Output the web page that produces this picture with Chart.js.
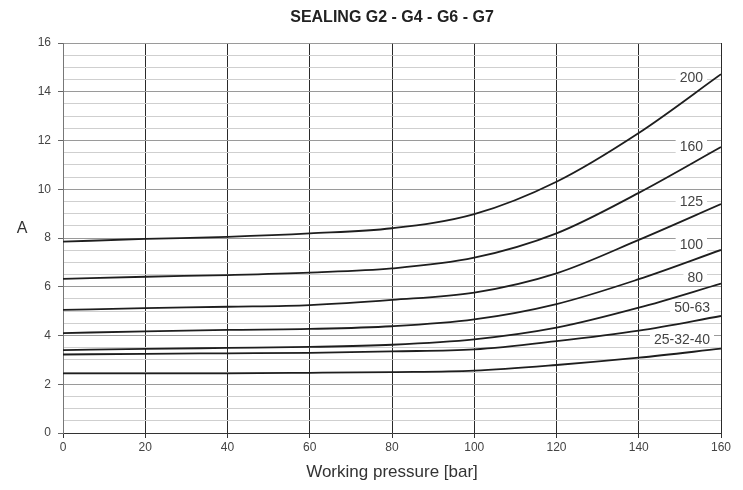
<!DOCTYPE html>
<html>
<head>
<meta charset="utf-8">
<script src="https://cdn.jsdelivr.net/npm/chart.js@4.4.1/dist/chart.umd.min.js"></script>
<style>
  html, body { margin: 0; padding: 0; background: #fff; }
  #wrap { width: 743px; height: 490px; }
</style>
</head>
<body>
<div id="wrap"><canvas id="sealChart" width="743" height="490"></canvas></div>
<script>
// pressure points (bar)
const pressure = [0, 20, 40, 60, 80, 100, 120, 140, 160];

// curve names (bore sizes)
const curveNames = ["200", "160", "125", "100", "80", "50-63", "25-32-40"];

// A values per curve
const a200 = [7.85, 7.96, 8.05, 8.19, 8.40, 8.98, 10.31, 12.31, 14.72];
const a160 = [6.32, 6.41, 6.48, 6.58, 6.75, 7.19, 8.19, 9.85, 11.73];
const a125 = [5.05, 5.12, 5.18, 5.25, 5.46, 5.76, 6.55, 7.92, 9.39];
const a100 = [4.10, 4.17, 4.23, 4.27, 4.38, 4.66, 5.29, 6.31, 7.51];
const a80  = [3.40, 3.45, 3.49, 3.53, 3.62, 3.84, 4.32, 5.14, 6.13];
const a50  = [3.22, 3.25, 3.27, 3.29, 3.35, 3.43, 3.77, 4.20, 4.80];
const a25  = [2.45, 2.45, 2.45, 2.47, 2.50, 2.56, 2.79, 3.09, 3.46];

const yTicksMajor = [0, 2, 4, 6, 8, 10, 12, 14, 16];

const allCurves = [a200, a160, a125, a100, a80, a50, a25];

const FONT = "'Liberation Sans', Arial, sans-serif";

/* ===============================
   Extra text: title, "A", curve labels
   =============================== */
const textPlugin = {
    id: "sealText",
    beforeDatasetsDraw(chart) {
        // curve labels in a white box, drawn under the curves
        const ctx = chart.ctx;
        const area = chart.chartArea;
        ctx.save();
        ctx.font = "14px " + FONT;
        ctx.textAlign = "right";
        ctx.textBaseline = "middle";
        chart.data.datasets.forEach((ds, i) => {
            const meta = chart.getDatasetMeta(i);
            const last = meta.data[meta.data.length - 1];
            const y = last.y - (last.y - 130) * 0.045;
            const w = ctx.measureText(ds.label).width;
            const xr = w > 30 ? area.right - 11 : area.right - 18;
            ctx.fillStyle = "#fff";
            ctx.fillRect(xr - w - 4, y - 8, w + 8, 16);
            ctx.fillStyle = "#444";
            ctx.fillText(ds.label, xr, y + 1);
        });
        ctx.restore();
    },
    afterDraw(chart) {
        const ctx = chart.ctx;
        const area = chart.chartArea;
        ctx.save();
        ctx.textAlign = "center";
        ctx.textBaseline = "middle";

        // title
        ctx.fillStyle = "#222";
        ctx.font = "bold 16px " + FONT;
        ctx.fillText("SEALING G2 - G4 - G6 - G7", (area.left + area.right) / 2, 18);

        // y axis name
        ctx.font = "16px " + FONT;
        ctx.fillStyle = "#333";
        ctx.fillText("A", 22, chart.scales.y.getPixelForValue(8.4));

        // x axis name
        ctx.font = "17px " + FONT;
        ctx.fillText("Working pressure [bar]", (area.left + area.right) / 2, 472);

        ctx.restore();
    }
};

new Chart(document.getElementById("sealChart"), {
    type: "line",
    data: {
        datasets: curveNames.map((name, i) => ({
            label: name,
            data: pressure.map((p, j) => ({ x: p, y: allCurves[i][j] })),
            borderColor: "#1e1e1e",
            borderWidth: 1.8,
            pointRadius: 0,
            fill: false,
            cubicInterpolationMode: "monotone"
        }))
    },
    options: {
        responsive: false,
        animation: false,
        layout: { padding: { top: 43, right: 22, left: 0, bottom: 0 } },
        plugins: {
            legend: { display: false },
            title: { display: false },
            tooltip: { enabled: false }
        },
        scales: {
            x: {
                type: "linear",
                min: 0,
                max: 160,
                ticks: {
                    stepSize: 20,
                    color: "#444",
                    font: { family: FONT, size: 12 },
                    padding: 2
                },
                grid: {
                    color: "#2a2a2a",
                    lineWidth: 1,
                    tickLength: 5,
                    tickColor: "#333"
                },
                border: { color: "#333", width: 1 },
                afterFit: scale => { scale.height = 57; }
            },
            y: {
                min: 0,
                max: 16,
                ticks: {
                    stepSize: 0.5,
                    autoSkip: false,
                    color: "#444",
                    font: { family: FONT, size: 12 },
                    padding: 7,
                    callback: value => yTicksMajor.includes(value) ? value : ""
                },
                grid: {
                    color: c => yTicksMajor.includes(c.tick.value) ? "#9a9a9a" : "#cfcfcf",
                    lineWidth: 1,
                    tickLength: 5,
                    tickColor: c => yTicksMajor.includes(c.tick.value) ? "#666" : "rgba(0,0,0,0)"
                },
                border: { color: "#777", width: 1 },
                afterFit: scale => { scale.width = 63; }
            }
        }
    },
    plugins: [textPlugin]
});
</script>
</body>
</html>
